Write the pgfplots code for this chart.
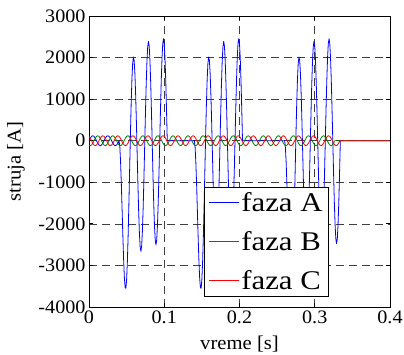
\documentclass[border=0pt]{standalone}
\usepackage{fontspec}
\setmainfont{Liberation Serif}[FakeStretch=1.06]
\newfontfamily\legfont{Liberation Serif}[FakeStretch=1.14]
\usepackage{pgfplots}
\usepackage{pgfplotstable}
\pgfplotsset{compat=1.18}
\definecolor{mgreen}{rgb}{0,0.5,0}
\pgfplotstableread{
t B C
0 -104 104
0.00167 -120 60
0.00333 -104 0
0.005 -60 -60
0.00667 0 -104
0.00833 60 -120
0.01 104 -104
0.01167 120 -60
0.01333 104 0
0.015 60 60
0.01667 0 104
0.01833 -60 120
0.02 -104 104
0.02167 -120 60
0.02333 -104 0
0.025 -60 -60
0.02667 0 -104
0.02833 60 -120
0.03 104 -104
0.03167 120 -60
0.03333 104 0
0.035 60 60
0.03667 0 104
0.03833 -60 120
0.04 -104 104
0.04167 -120 60
0.04333 -104 0
0.045 -60 -60
0.04667 0 -104
0.04833 60 -120
0.05 104 -104
0.05167 120 -60
0.05333 104 0
0.055 60 60
0.05667 0 104
0.05833 -60 120
0.06 -104 104
0.06167 -120 60
0.06333 -104 0
0.065 -60 -60
0.06667 0 -104
0.06833 60 -120
0.07 104 -104
0.07167 120 -60
0.07333 104 0
0.075 60 60
0.07667 0 104
0.07833 -60 120
0.08 -104 104
0.08167 -120 60
0.08333 -104 0
0.085 -60 -60
0.08667 0 -104
0.08833 60 -120
0.09 104 -104
0.09167 120 -60
0.09333 104 0
0.095 60 60
0.09667 0 104
0.09833 -60 120
0.1 -104 104
0.10167 -120 60
0.10333 -104 0
0.105 -60 -60
0.10667 0 -104
0.10833 60 -120
0.11 104 -104
0.11167 120 -60
0.11333 104 0
0.115 60 60
0.11667 0 104
0.11833 -60 120
0.12 -104 104
0.12167 -120 60
0.12333 -104 0
0.125 -60 -60
0.12667 0 -104
0.12833 60 -120
0.13 104 -104
0.13167 120 -60
0.13333 104 0
0.135 60 60
0.13667 0 104
0.13833 -60 120
0.14 -104 104
0.14167 -120 60
0.14333 -104 0
0.145 -60 -60
0.14667 0 -104
0.14833 60 -120
0.15 104 -104
0.15167 120 -60
0.15333 104 0
0.155 60 60
0.15667 0 104
0.15833 -60 120
0.16 -104 104
0.16167 -120 60
0.16333 -104 0
0.165 -60 -60
0.16667 0 -104
0.16833 60 -120
0.17 104 -104
0.17167 120 -60
0.17333 104 0
0.175 60 60
0.17667 0 104
0.17833 -60 120
0.18 -104 104
0.18167 -120 60
0.18333 -104 0
0.185 -60 -60
0.18667 0 -104
0.18833 60 -120
0.19 104 -104
0.19167 120 -60
0.19333 104 0
0.195 60 60
0.19667 0 104
0.19833 -60 120
0.2 -104 104
0.20167 -120 60
0.20333 -104 0
0.205 -60 -60
0.20667 0 -104
0.20833 60 -120
0.21 104 -104
0.21167 120 -60
0.21333 104 0
0.215 60 60
0.21667 0 104
0.21833 -60 120
0.22 -104 104
0.22167 -120 60
0.22333 -104 0
0.225 -60 -60
0.22667 0 -104
0.22833 60 -120
0.23 104 -104
0.23167 120 -60
0.23333 104 0
0.235 60 60
0.23667 0 104
0.23833 -60 120
0.24 -104 104
0.24167 -120 60
0.24333 -104 0
0.245 -60 -60
0.24667 0 -104
0.24833 60 -120
0.25 104 -104
0.25167 120 -60
0.25333 104 0
0.255 60 60
0.25667 0 104
0.25833 -60 120
0.26 -104 104
0.26167 -120 60
0.26333 -104 0
0.265 -60 -60
0.26667 0 -104
0.26833 60 -120
0.27 104 -104
0.27167 120 -60
0.27333 104 0
0.275 60 60
0.27667 0 104
0.27833 -60 120
0.28 -104 104
0.28167 -120 60
0.28333 -104 0
0.285 -60 -60
0.28667 0 -104
0.28833 60 -120
0.29 104 -104
0.29167 120 -60
0.29333 104 0
0.295 60 60
0.29667 0 104
0.29833 -60 120
0.3 -104 104
0.30167 -120 60
0.30333 -104 0
0.305 -60 -60
0.30667 0 -104
0.30833 60 -120
0.31 104 -104
0.31167 120 -60
0.31333 104 0
0.315 60 60
0.31667 0 104
0.31833 -60 120
0.32 -104 104
0.32167 -120 60
0.32333 -104 0
0.325 -60 -60
0.32667 0 -104
0.32833 0 -120
0.33 0 -104
0.33167 0 -60
0.33333 0 0
0.4 0 0
}\phases
\begin{document}
\begin{tikzpicture}
\begin{axis}[
  scale only axis, width=301pt, height=291pt,
  xmin=0, xmax=0.4, ymin=-4000, ymax=3000,
  xtick={0,0.1,0.2,0.3,0.4},
  xticklabels={0,0.1,0.2,0.3,0.4},
  ytick={-4000,-3000,-2000,-1000,0,1000,2000,3000},
  yticklabels={-4000,-3000,-2000,-1000,0,1000,2000,3000},
  scaled x ticks=false, scaled y ticks=false,
  tick label style={font=\fontsize{19}{21}\selectfont, text=black},
  xlabel={vreme [s]}, ylabel={struja [A]},
  label style={font=\fontsize{19.5}{21}\selectfont},
  xlabel style={at={(axis description cs:0.5,-0.127)}, anchor=center},
  ylabel style={at={(axis description cs:-0.2425,0.5)}, anchor=center},
  grid=major,
  major grid style={black!75, dash pattern=on 8pt off 5pt, line width=0.6pt},
  tick align=inside, major tick length=4pt,
  axis line style={line width=0.8pt},
  every tick/.style={black, line width=0.8pt},
  legend image code/.code={\draw[#1, line width=1.2pt] (0pt,0pt) -- (30pt,0pt);},
  legend cell align=left,
  legend style={at={(0.382,0.412)}, anchor=north west, draw=black, fill=white,
    font=\legfont\fontsize{27}{29}\selectfont, inner xsep=4pt, inner ysep=3pt,
    row sep=14.5pt},
]
\coordinate (O) at (rel axis cs:0,0);
\addplot[blue, line width=0.8pt, line join=round] coordinates {
(0,0)(0.00167,60)(0.00333,104)(0.005,120)(0.00667,104)(0.00833,60)(0.01,0)(0.01167,-60)(0.01333,-104)(0.015,-120)(0.01667,-104)(0.01833,-60)
(0.02,0)(0.02167,60)(0.02333,104)(0.025,120)(0.02667,104)(0.02833,60)(0.03,0)(0.03167,-60)(0.03333,-104)(0.035,-120)(0.03667,-104)(0.03833,-60)
(0.040,0)(0.041,-157)(0.042,-525)(0.043,-1051)(0.044,-1664)(0.045,-2289)(0.046,-2852)(0.047,-3283)(0.048,-3528)(0.049,-3551)
(0.050,-3341)(0.051,-2908)(0.052,-2287)(0.053,-1529)(0.054,-703)(0.055,118)(0.056,861)(0.057,1456)(0.058,1851)(0.059,2013)
(0.060,1930)(0.061,1614)(0.062,1099)(0.063,440)(0.064,-297)(0.065,-1035)(0.066,-1702)(0.067,-2227)(0.068,-2559)(0.069,-2663)
(0.070,-2526)(0.071,-2160)(0.072,-1601)(0.073,-900)(0.074,-125)(0.075,648)(0.076,1347)(0.077,1901)(0.078,2260)(0.079,2389)
(0.080,2274)(0.081,1929)(0.082,1389)(0.083,705)(0.084,-53)(0.085,-812)(0.086,-1497)(0.087,-2039)(0.088,-2387)(0.089,-2505)
(0.090,-2381)(0.091,-2027)(0.092,-1479)(0.093,-788)(0.094,-23)(0.095,742)(0.096,1433)(0.097,1981)(0.098,2333)(0.099,2455)
(0.100,2335)(0.101,1986)(0.102,1441)(0.103,753)(0.104,0)
(0.140,0)(0.141,-157)(0.142,-525)(0.143,-1051)(0.144,-1664)(0.145,-2289)(0.146,-2852)(0.147,-3283)(0.148,-3528)(0.149,-3551)
(0.150,-3341)(0.151,-2908)(0.152,-2287)(0.153,-1529)(0.154,-703)(0.155,118)(0.156,861)(0.157,1456)(0.158,1851)(0.159,2013)
(0.160,1930)(0.161,1614)(0.162,1099)(0.163,440)(0.164,-297)(0.165,-1035)(0.166,-1702)(0.167,-2227)(0.168,-2559)(0.169,-2663)
(0.170,-2526)(0.171,-2160)(0.172,-1601)(0.173,-900)(0.174,-125)(0.175,648)(0.176,1347)(0.177,1901)(0.178,2260)(0.179,2389)
(0.180,2274)(0.181,1929)(0.182,1389)(0.183,705)(0.184,-53)(0.185,-812)(0.186,-1497)(0.187,-2039)(0.188,-2387)(0.189,-2505)
(0.190,-2381)(0.191,-2027)(0.192,-1479)(0.193,-788)(0.194,-23)(0.195,742)(0.196,1433)(0.197,1981)(0.198,2333)(0.199,2455)
(0.200,2335)(0.201,1986)(0.202,1441)(0.203,753)(0.204,0)
(0.260,0)(0.261,-157)(0.262,-525)(0.263,-1051)(0.264,-1664)(0.265,-2289)(0.266,-2852)(0.267,-3283)(0.268,-3528)(0.269,-3551)
(0.270,-3341)(0.271,-2908)(0.272,-2287)(0.273,-1529)(0.274,-703)(0.275,118)(0.276,861)(0.277,1456)(0.278,1851)(0.279,2013)
(0.280,1930)(0.281,1614)(0.282,1099)(0.283,440)(0.284,-297)(0.285,-1035)(0.286,-1702)(0.287,-2227)(0.288,-2559)(0.289,-2663)
(0.290,-2526)(0.291,-2160)(0.292,-1601)(0.293,-900)(0.294,-125)(0.295,648)(0.296,1347)(0.297,1901)(0.298,2260)(0.299,2389)
(0.300,2274)(0.301,1929)(0.302,1389)(0.303,705)(0.304,-53)(0.305,-812)(0.306,-1497)(0.307,-2039)(0.308,-2387)(0.309,-2505)
(0.310,-2381)(0.311,-2027)(0.312,-1479)(0.313,-788)(0.314,-23)(0.315,742)(0.316,1433)(0.317,1981)(0.318,2333)(0.319,2455)
(0.320,2335)(0.321,1986)(0.322,1441)(0.323,753)(0.324,-9)(0.325,-771)(0.326,-1459)(0.327,-2004)(0.328,-2355)(0.329,-2475)
(0.330,-2354)(0.331,-2002)(0.332,-1456)(0.333,-766)(0.334,0)(0.4,0)
};
\addlegendentry{faza A}
\addplot[mgreen, line width=0.8pt, line join=round] table[x=t, y=B] {\phases};
\addlegendentry{faza B}
\addplot[red, line width=0.8pt, line join=round] table[x=t, y=C] {\phases};
\addlegendentry{faza C}
\end{axis}
\pgfresetboundingbox
\path (O) ++(-89pt,-48pt) rectangle ++(404pt,355pt);
\end{tikzpicture}
\end{document}
